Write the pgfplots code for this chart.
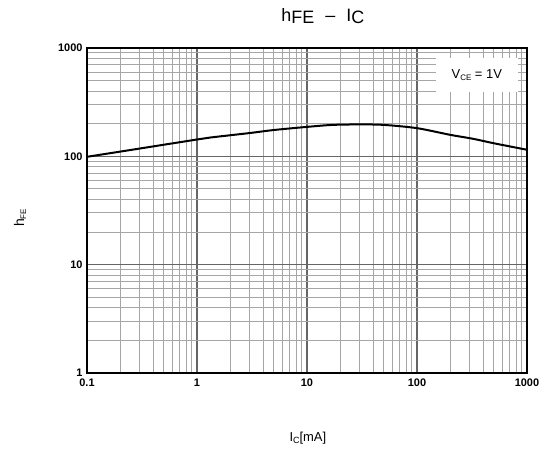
\documentclass[border=0pt]{standalone}
\usepackage{fontspec}
\setmainfont{Liberation Sans}
\usepackage{pgfplots}
\pgfplotsset{compat=1.18}

\begin{document}
\begin{tikzpicture}[x=1bp,y=1bp]
\path[use as bounding box] (0,0) rectangle (545,453);
\begin{axis}[
  at={(87bp,80bp)}, anchor=south west,
  width=440bp, height=325bp, scale only axis,
  xmode=log, ymode=log,
  xmin=0.1, xmax=1000, ymin=1, ymax=1000,
  xtick={0.1,1,10,100,1000},
  xticklabels={0.1,1,10,100,1000},
  minor xtick={0.2,0.3,0.4,0.5,0.6,0.7,0.8,0.9,2,3,4,5,6,7,8,9,20,30,40,50,60,70,80,90,200,300,400,500,600,700,800,900},
  ytick={1,10,100,1000},
  yticklabels={1,10,100,1000},
  minor ytick={2,3,4,5,6,7,8,9,20,30,40,50,60,70,80,90,200,300,400,500,600,700,800,900},
  grid=both,
  major grid style={draw=black!60, line width=1.4bp},
  minor grid style={draw=black!35, line width=1bp},
  axis line style={black, line width=2.4bp},
  major tick length=0pt, minor tick length=0pt,
  ticklabel style={font=\fontsize{11}{13}\selectfont\bfseries},
  xticklabel style={yshift=-2bp},
  yticklabel style={xshift=-1bp},
  title={h\raisebox{-2.7bp}{FE}\hspace{11bp}\textendash\hspace{11bp}I\raisebox{-2.7bp}{C}},
  title style={font=\fontsize{18}{20}\selectfont, at={(axis description cs:0.536,1.08)}, anchor=center},
  xlabel={I\raisebox{-2bp}{\fontsize{9}{10}\selectfont C}[mA]},
  xlabel style={font=\fontsize{13}{15}\selectfont, at={(axis description cs:0.502,-0.2)}, anchor=center},
  ylabel={h\raisebox{-2bp}{\fontsize{8}{10}\selectfont FE}},
  ylabel style={font=\fontsize{14}{15}\selectfont, at={(axis description cs:-0.152,0.477)}, anchor=center},
]
\addplot[black, line width=2bp, smooth, tension=0.5] coordinates {
  (0.1,99) (0.23,113) (0.5,128) (1,143) (1.31,149) (3,164) (5,175) (10,187)
  (17,195) (30,197) (50,195) (100,182) (200,158) (325,145) (500,132) (1000,115)
};
\node[fill=white, minimum width=82bp, minimum height=34bp, inner sep=0pt,
      font=\fontsize{13}{15}\selectfont]
  at (rel axis cs:0.886,0.917)
  {V\raisebox{-1.5bp}{\fontsize{8}{10}\selectfont CE} = 1V};
\end{axis}
\end{tikzpicture}
\end{document}
